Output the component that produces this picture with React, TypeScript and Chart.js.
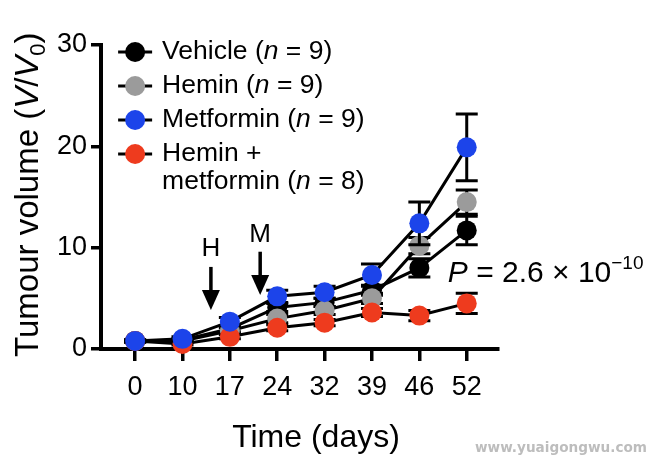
import React, { useEffect, useRef } from "react";
import { Chart, registerables } from "chart.js";

Chart.register(...registerables);

const FONT = '"Liberation Sans", Arial, Helvetica, sans-serif';

// ---------- data ----------
const days = ["0", "10", "17", "24", "32", "39", "46", "52"];
const seriesNames = ["Vehicle", "Hemin", "Metformin", "Hemin +\nmetformin"];
const seriesN = [9, 9, 9, 8];
const seriesColors = ["#000000", "#9b9b9b", "#1c44ea", "#ee3b1e"];
const drawOrder = [3, 2, 0, 1]; // lower = drawn on top

const vehicle = [0.8, 0.9, 2.0, 4.1, 4.6, 5.8, 8.0, 11.7];
const vehicleSem = [0.1, 0.1, 0.3, 0.4, 0.4, 0.5, 0.9, 1.4];
const hemin = [0.8, 0.8, 1.8, 3.0, 3.8, 5.0, 10.2, 14.5];
const heminSem = [0.1, 0.1, 0.3, 0.4, 0.4, 0.5, 0.8, 1.2];
const metformin = [0.8, 1.0, 2.7, 5.2, 5.6, 7.3, 12.4, 19.9];
const metforminSem = [0.1, 0.2, 0.4, 0.6, 0.6, 1.1, 2.1, 3.3];
const combo = [0.8, 0.5, 1.2, 2.1, 2.6, 3.6, 3.3, 4.5];
const comboSem = [0.1, 0.1, 0.2, 0.3, 0.3, 0.4, 0.5, 1.0];

const seriesValues = [vehicle, hemin, metformin, combo];
const seriesSems = [vehicleSem, heminSem, metforminSem, comboSem];

const yMin = 0;
const yMax = 30;
const yStep = 10;

// treatment arrows (x in category index units, y in data units)
const arrowLabels = ["H", "M"];
const arrowX = [1.6, 2.64];
const arrowTop = [8.1, 9.6];
const arrowTip = [3.85, 5.33];
const arrowLabelY = [9.9, 11.3];

// P value annotation
const pParts = ["P", " = 2.6 \u00d7 10", "\u221210"];
const pAnchorX = 6.6;
const pAnchorY = 6.6;

const xTitle = "Time (days)";
const yTitleParts = ["Tumour volume (", "V", "/", "V", "0", ")"];
const watermark = "www.yuaigongwu.com";

type Run = { text: string; italic?: boolean; size: number; dy?: number };

function drawRuns(ctx: CanvasRenderingContext2D, runs: Run[], x: number, y: number) {
  let cx = x;
  for (const r of runs) {
    ctx.font = `${r.italic ? "italic " : ""}${r.size}px ${FONT}`;
    ctx.fillText(r.text, cx, y + (r.dy || 0));
    cx += ctx.measureText(r.text).width;
  }
  return cx - x;
}

function runsWidth(ctx: CanvasRenderingContext2D, runs: Run[]) {
  let w = 0;
  for (const r of runs) {
    ctx.font = `${r.italic ? "italic " : ""}${r.size}px ${FONT}`;
    w += ctx.measureText(r.text).width;
  }
  return w;
}

const extrasPlugin = {
  id: "extras",
  beforeDatasetDraw(chart: any, args: any) {
    const { ctx } = chart;
    const ys = chart.scales.y;
    const idx = args.index;
    const vals = seriesValues[idx];
    const sems = seriesSems[idx];
    const meta = args.meta;
    ctx.save();
    ctx.strokeStyle = "#000";
    ctx.lineWidth = 3;
    for (let i = 0; i < vals.length; i++) {
      const pt = meta.data[i];
      if (!pt) continue;
      const x = pt.x;
      const yt = ys.getPixelForValue(vals[i] + sems[i]);
      const yb = ys.getPixelForValue(Math.max(vals[i] - sems[i], 0));
      ctx.beginPath();
      ctx.moveTo(x, yt);
      ctx.lineTo(x, yb);
      ctx.moveTo(x - 11, yt);
      ctx.lineTo(x + 11, yt);
      ctx.moveTo(x - 11, yb);
      ctx.lineTo(x + 11, yb);
      ctx.stroke();
    }
    ctx.restore();
  },
  afterDraw(chart: any) {
    const { ctx, chartArea: ca } = chart;
    const xs = chart.scales.x;
    const ys = chart.scales.y;
    ctx.save();
    ctx.fillStyle = "#000";
    ctx.textBaseline = "middle";

    // legend
    const cx = xs.getPixelForValue(0);
    const legendSize = 26.5;
    for (let i = 0; i < seriesNames.length; i++) {
      const rowY = ca.top + 7 + i * 34;
      ctx.strokeStyle = "#000";
      ctx.lineWidth = 3;
      ctx.beginPath();
      ctx.moveTo(cx - 17, rowY);
      ctx.lineTo(cx + 17, rowY);
      ctx.stroke();
      ctx.fillStyle = seriesColors[i];
      ctx.beginPath();
      ctx.arc(cx, rowY, 10, 0, Math.PI * 2);
      ctx.fill();
      ctx.fillStyle = "#000";
      const lines = seriesNames[i].split("\n");
      const tx = cx + 27;
      for (let l = 0; l < lines.length; l++) {
        const ly = rowY + l * 28;
        if (l === lines.length - 1) {
          drawRuns(
            ctx,
            [
              { text: lines[l] + " (", size: legendSize },
              { text: "n", size: legendSize, italic: true },
              { text: " = " + seriesN[i] + ")", size: legendSize },
            ],
            tx,
            ly
          );
        } else {
          drawRuns(ctx, [{ text: lines[l], size: legendSize }], tx, ly);
        }
      }
    }

    // arrows
    ctx.strokeStyle = "#000";
    ctx.fillStyle = "#000";
    for (let i = 0; i < arrowLabels.length; i++) {
      const ax = xs.getPixelForValue(arrowX[i]);
      const top = ys.getPixelForValue(arrowTop[i]);
      const tip = ys.getPixelForValue(arrowTip[i]);
      ctx.lineWidth = 3.5;
      ctx.beginPath();
      ctx.moveTo(ax, top);
      ctx.lineTo(ax, tip - 14);
      ctx.stroke();
      ctx.beginPath();
      ctx.moveTo(ax - 9, tip - 20);
      ctx.lineTo(ax + 9, tip - 20);
      ctx.lineTo(ax, tip);
      ctx.closePath();
      ctx.fill();
      ctx.font = `26px ${FONT}`;
      ctx.textAlign = "center";
      ctx.fillText(arrowLabels[i], ax, ys.getPixelForValue(arrowLabelY[i]));
      ctx.textAlign = "left";
    }

    // P value
    ctx.textBaseline = "alphabetic";
    drawRuns(
      ctx,
      [
        { text: pParts[0], size: 30, italic: true },
        { text: pParts[1], size: 30 },
        { text: pParts[2], size: 19, dy: -13 },
      ],
      xs.getPixelForValue(pAnchorX),
      ys.getPixelForValue(pAnchorY)
    );

    // x title
    const xRuns: Run[] = [{ text: xTitle, size: 32 }];
    const xw = runsWidth(ctx, xRuns);
    drawRuns(ctx, xRuns, 316 - xw / 2, 447);

    // y title
    ctx.save();
    ctx.translate(38, 357);
    ctx.rotate(-Math.PI / 2);
    drawRuns(
      ctx,
      [
        { text: yTitleParts[0], size: 33 },
        { text: yTitleParts[1], size: 33, italic: true },
        { text: yTitleParts[2], size: 33 },
        { text: yTitleParts[3], size: 33, italic: true },
        { text: yTitleParts[4], size: 22, dy: 7 },
        { text: yTitleParts[5], size: 33 },
      ],
      0,
      0
    );
    ctx.restore();

    // watermark
    const wmFont = `"DejaVu Sans", Verdana, sans-serif`;
    ctx.font = `bold 16px ${wmFont}`;
    const mw = ctx.measureText(watermark).width;
    const wsize = (16 * 172) / mw;
    ctx.font = `bold ${wsize}px ${wmFont}`;
    ctx.fillStyle = "#bdbdbd";
    ctx.textBaseline = "middle";
    ctx.textAlign = "right";
    ctx.fillText(watermark, 647, 448);
    ctx.restore();
  },
};

export default function App() {
  const ref = useRef<HTMLCanvasElement | null>(null);

  useEffect(() => {
    if (!ref.current) return;
    const datasets = seriesNames.map((name, i) => ({
      label: name.replace("\n", " "),
      data: seriesValues[i].map((v, j) => ({ x: j, y: v })),
      borderColor: "#000",
      borderWidth: 3,
      backgroundColor: seriesColors[i],
      pointBackgroundColor: seriesColors[i],
      pointBorderColor: seriesColors[i],
      pointBorderWidth: 0,
      pointRadius: 10,
      tension: 0,
      fill: false,
      clip: false as any,
      order: drawOrder[i],
    }));

    const chart = new Chart(ref.current, {
      type: "line",
      data: { datasets },
      plugins: [extrasPlugin],
      options: {
        animation: false,
        responsive: false,
        maintainAspectRatio: false,
        layout: { padding: { left: 0, top: 45, right: 154, bottom: 0 } },
        plugins: { legend: { display: false }, tooltip: { enabled: false } },
        scales: {
          x: {
            type: "linear",
            min: -0.72,
            max: 7.66,
            afterBuildTicks: (s: any) => {
              s.ticks = days.map((_, i) => ({ value: i }));
            },
            afterFit: (s: any) => {
              s.height = 113;
            },
            ticks: {
              callback: (v: any) => days[v as number] ?? "",
              color: "#000",
              font: { family: FONT, size: 27 },
              padding: 10,
              maxRotation: 0,
              autoSkip: false,
            },
            grid: {
              display: true,
              drawOnChartArea: false,
              drawTicks: true,
              tickLength: 12,
              lineWidth: 3.5,
              color: "#000",
            },
            border: { display: true, width: 4, color: "#000" },
          },
          y: {
            type: "linear",
            min: yMin,
            max: yMax,
            afterFit: (s: any) => {
              s.width = 101;
            },
            ticks: {
              stepSize: yStep,
              color: "#000",
              font: { family: FONT, size: 27 },
              padding: 4,
            },
            grid: {
              display: true,
              drawOnChartArea: false,
              drawTicks: true,
              tickLength: 10,
              lineWidth: 3.5,
              color: "#000",
            },
            border: { display: true, width: 4, color: "#000" },
          },
        },
      } as any,
    });
    return () => chart.destroy();
  }, []);

  return (
    <div style={{ position: "absolute", left: 0, top: 0, width: 652, height: 462, background: "#fff" }}>
      <canvas ref={ref} width={652} height={462} style={{ display: "block" }} />
    </div>
  );
}
